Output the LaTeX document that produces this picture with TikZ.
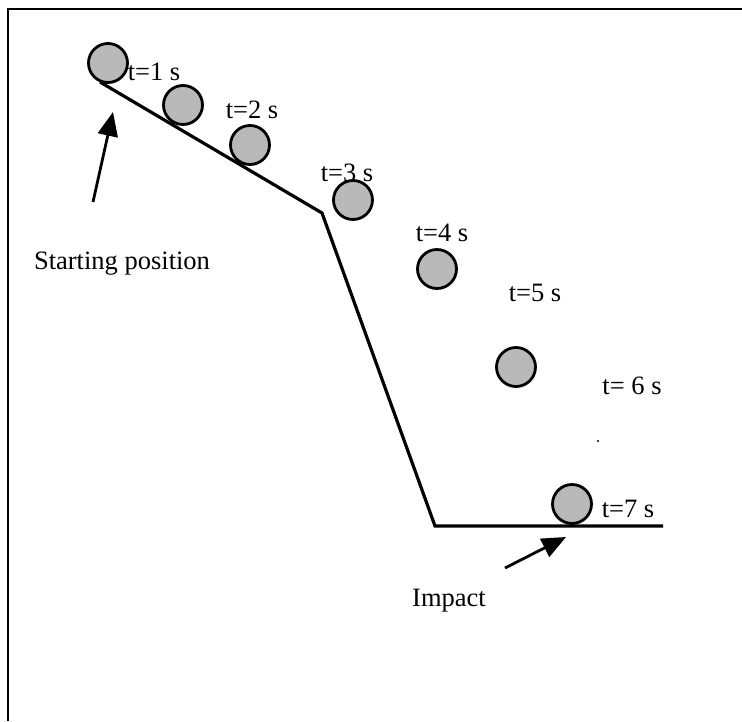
\documentclass[tikz,border=0pt]{standalone}
\usepackage{fontspec}
\setmainfont{Liberation Serif}
\usetikzlibrary{arrows.meta}
\begin{document}
\begin{tikzpicture}[x=1pt,y=-1pt,
  ball/.style={circle,draw=black,line width=2.8pt,fill=gray!55,minimum size=39pt,inner sep=0pt},
  lbl/.style={font=\fontsize{26.5}{30}\selectfont,inner sep=0pt},
  ramp/.style={line width=3.2pt,line join=miter},
  pointer/.style={line width=2.8pt,-{Triangle[length=24pt,width=20pt]}}]
\useasboundingbox (0,0) rectangle (742,721);
\draw[line width=1.8pt] (8,721) -- (8,9) -- (742,9);
% ramp
\coordinate (r1) at (100,82);
\coordinate (r2) at (322,213);
\coordinate (r3) at (435,526);
\coordinate (r4) at (663,526);
\draw[ramp] (r1) -- (r2) -- (r3) -- (r4);
% balls
\node[ball] (b1) at (108,63) {};
\node[ball] (b2) at (183,105) {};
\node[ball] (b3) at (250,145) {};
\node[ball] (b4) at (353,200) {};
\node[ball] (b5) at (437,269) {};
\node[ball] (b6) at (516,367) {};
\node[ball] (b7) at (572,504) {};
% labels
\node[lbl] (t1) at (154,72) {t=1 s};
\node[lbl] (t2) at (252,110) {t=2 s};
\node[lbl] (t3) at (347,173) {t=3 s};
\node[lbl] (t4) at (442,233) {t=4 s};
\node[lbl] (t5) at (535,293) {t=5 s};
\node[lbl] (t6) at (632,386) {t= 6 s};
\node[lbl] (t7) at (628,509) {t=7 s};
\node[lbl] (start) at (122,264) {Starting position};
\node[lbl] (impact) at (449,601) {Impact};
% stray dot
\fill (598,441) circle (1.2pt);
% arrows
\coordinate (s0) at (93,202);
\coordinate (s1) at (113,112);
\coordinate (i0) at (505,568);
\coordinate (i1) at (566,537);
\draw[pointer] (s0) -- (s1);
\draw[pointer] (i0) -- (i1);
\end{tikzpicture}
\end{document}
